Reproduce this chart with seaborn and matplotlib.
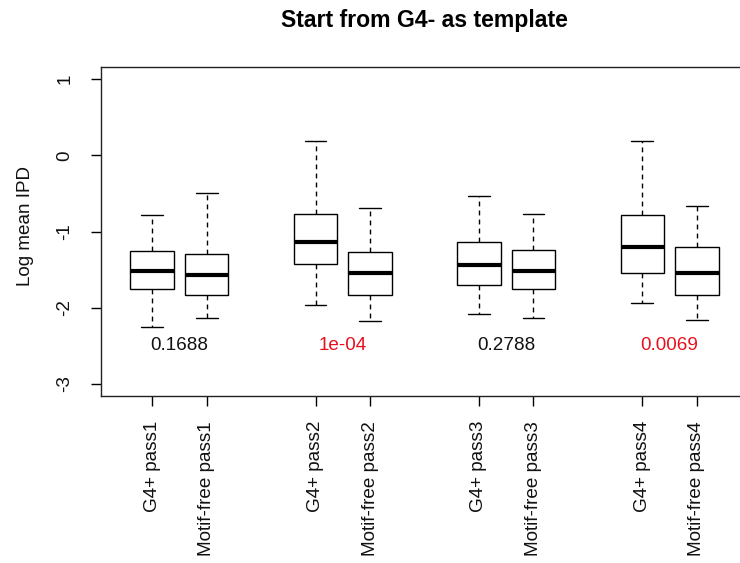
import matplotlib
matplotlib.use("Agg")
import matplotlib.pyplot as plt
import numpy as np
import pandas as pd
import seaborn as sns

# Groups and box labels
passes = ["pass1", "pass2", "pass3", "pass4"]
groups = ["G4+", "Motif-free"]
box_labels = [f"{g} {p}" for p in passes for g in groups]

# Five-number summaries (log mean IPD), one entry per box
whisker_low = [-2.25, -2.14, -1.97, -2.18, -2.08, -2.13, -1.94, -2.16]
q1 = [-1.76, -1.83, -1.43, -1.84, -1.70, -1.75, -1.54, -1.83]
median = [-1.52, -1.57, -1.14, -1.54, -1.44, -1.52, -1.20, -1.54]
q3 = [-1.25, -1.29, -0.77, -1.27, -1.14, -1.24, -0.785, -1.21]
whisker_high = [-0.785, -0.50, 0.19, -0.69, -0.54, -0.77, 0.19, -0.66]

# Wilcoxon p-values per pass (as printed)
p_values = ["0.1688", "1e-04", "0.2788", "0.0069"]

y_ticks = [-3, -2, -1, 0, 1]

sns.set_style("ticks")
plt.rcParams["font.family"] = ["Liberation Sans", "DejaVu Sans"]

# Long-form table: each box's summary values; with whis=(0, 100) the
# quartiles of these five values reproduce the summary exactly.
rows = []
for i, p in enumerate(passes):
    for j, g in enumerate(groups):
        k = i * len(groups) + j
        pos = i * (len(groups) + 1) + j + 1
        for v in (whisker_low[k], q1[k], median[k], q3[k], whisker_high[k]):
            rows.append({"label": box_labels[k], "pos": pos, "value": v})
df = pd.DataFrame(rows)
positions = sorted(df["pos"].unique())

fig = plt.figure(figsize=(7.40, 5.63), dpi=100)
ax = fig.add_axes([101 / 740, 167 / 563, 647 / 740, 329 / 563])

sns.boxplot(
    data=df, x="pos", y="value", native_scale=True, whis=(0, 100),
    width=0.8, color="white", linecolor="black", linewidth=1.0,
    showfliers=False, ax=ax,
    medianprops={"linewidth": 3.0, "color": "black"},
    whiskerprops={"linestyle": (0, (3.5, 3)), "color": "black"},
    capprops={"color": "black"},
    boxprops={"edgecolor": "black"},
)

# p-value annotations, red when significant
for i, ptxt in enumerate(p_values):
    x_mid = np.mean(positions[i * 2:(i + 1) * 2])
    col = "#e8101e" if float(ptxt) < 0.05 else "#111111"
    ax.text(x_mid, -2.5, ptxt, ha="center", va="center", fontsize=13.6, color=col)

ax.set_xlim(0.06, 11.94)
ax.set_ylim(-3.16, 1.16)
ax.set_xticks(positions)
ax.set_xticklabels(box_labels, rotation=90, fontsize=13.6, color="#111111")
ax.set_yticks(y_ticks)
ax.set_yticklabels([str(t) for t in y_ticks], rotation=90, va="center",
                   fontsize=13.6, color="#111111")
ax.tick_params(axis="x", length=7, width=1, color="black", pad=11)
ax.tick_params(axis="y", length=7, width=1, color="black", pad=13)
ax.set_xlabel("")
ax.set_ylabel("")
for s in ax.spines.values():
    s.set_visible(True)
    s.set_color("#222222")
    s.set_linewidth(1.0)

fig.text(26 / 740, 1 - 226 / 563, "Log mean IPD", rotation=90,
         ha="center", va="center", fontsize=13.6, color="#111111")
fig.text((101 + 748) / 2 / 740, 1 - 21 / 563, "Start from G4- as template",
         ha="center", va="center", fontsize=16.6, fontweight="bold",
         color="black")

fig.savefig("out.png", dpi=100)
